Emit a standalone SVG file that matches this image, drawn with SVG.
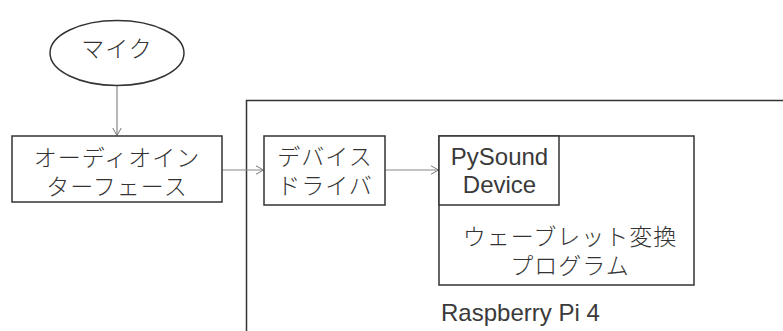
<svg xmlns="http://www.w3.org/2000/svg" width="783" height="331" viewBox="0 0 783 331">
<defs>
<marker id="arr" markerWidth="10" markerHeight="12" refX="8" refY="6" orient="auto" markerUnits="userSpaceOnUse">
<path d="M0,1.5 L8,6 L0,10.5" fill="none" stroke="#777" stroke-width="1"/>
</marker>
</defs>
<style>
.box{fill:#fff;stroke:#333;stroke-width:1.5}
.frame{fill:none;stroke:#333;stroke-width:1.5}
.con{fill:none;stroke:#888;stroke-width:1.2;marker-end:url(#arr)}
.jp{font-family:"Noto Sans CJK JP","Liberation Sans",sans-serif;font-size:23px;font-weight:300;letter-spacing:1px;fill:#333;text-anchor:middle}
.en{font-family:"Liberation Sans","Noto Sans",sans-serif;font-size:24px;fill:#3a3a3a;text-anchor:middle}
</style>
<rect width="783" height="331" fill="#fff"/>
<g id="raspberry-pi">
<rect class="frame" x="246.5" y="100.5" width="560" height="260"/>
<text class="en" x="441" y="320.5" style="text-anchor:start">Raspberry Pi 4</text>
</g>
<g id="connectors">
<line class="con" x1="117" y1="86" x2="117" y2="135.5"/>
<line class="con" x1="222" y1="170" x2="263.5" y2="170"/>
<line class="con" x1="385" y1="170" x2="438.5" y2="170"/>
</g>
<g id="mic">
<ellipse class="box" cx="117" cy="53" rx="67" ry="32.5"/>
<text class="jp" x="117" y="56.5">マイク</text>
</g>
<g id="audio-interface">
<rect class="box" x="12" y="136" width="210" height="66"/>
<text class="jp" x="117" y="166">オーディオイン</text>
<text class="jp" x="117" y="195">ターフェース</text>
</g>
<g id="device-driver">
<rect class="box" x="264" y="136" width="121" height="69"/>
<text class="jp" x="325" y="165">デバイス</text>
<text class="jp" x="325" y="194">ドライバ</text>
</g>
<g id="wavelet-program">
<rect class="box" x="439" y="136" width="255" height="149"/>
<text class="jp" x="570" y="245">ウェーブレット変換</text>
<text class="jp" x="570" y="273.5">プログラム</text>
</g>
<g id="pysound">
<rect class="box" x="439" y="136" width="120" height="69"/>
<text class="en" x="499.5" y="164.5">PySound</text>
<text class="en" x="499.5" y="193">Device</text>
</g>
</svg>
